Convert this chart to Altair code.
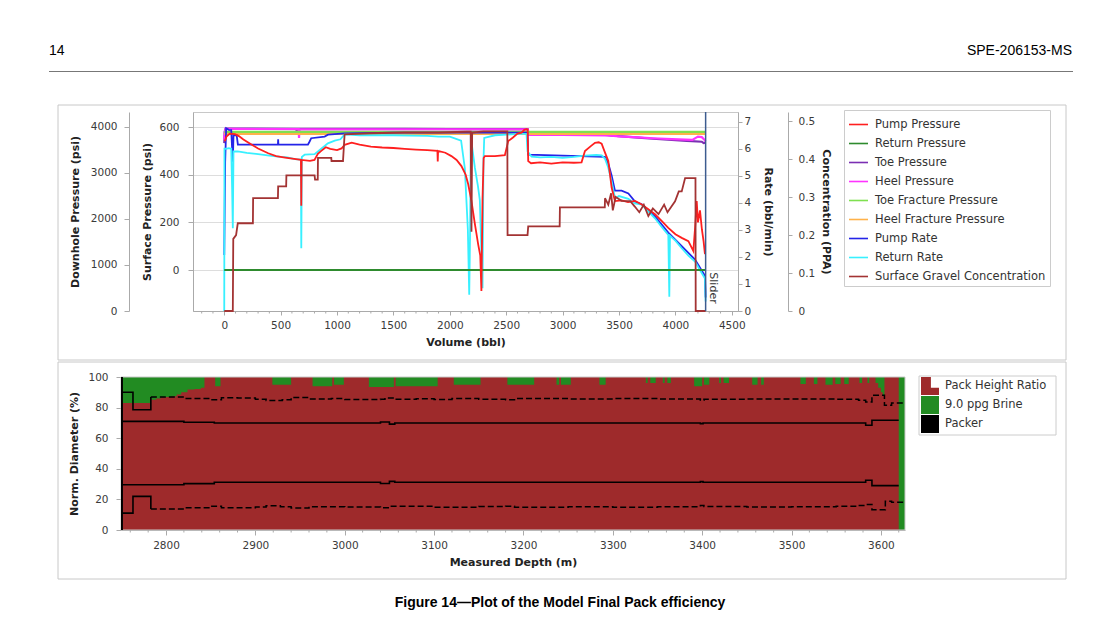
import altair as alt
import pandas as pd

# ---------------- top panel : series ----------------
series_top = ["Pump Pressure", "Return Pressure", "Toe Pressure", "Heel Pressure",
              "Toe Fracture Pressure", "Heel Fracture Pressure", "Pump Rate",
              "Return Rate", "Surface Gravel Concentration"]
colors_top = ["#FF1F1F", "#2E8B2E", "#7B2FB3", "#FF33FF", "#7FE050", "#FFB24A",
              "#2424E8", "#38F0FF", "#A33333"]

# surface pressure (psi)
pump_pressure_vol = [5, 20, 50, 95, 130, 170, 230, 300, 390, 460, 540, 620, 680, 683, 686, 760, 800, 830, 860, 900,
                     940, 1000, 1040, 1067, 1130, 1200, 1300, 1400, 1500, 1600, 1700, 1800, 1890, 1893, 1896, 1960,
                     2014, 2060, 2103, 2140, 2163, 2192, 2220, 2251, 2270, 2280, 2290, 2300, 2311, 2400, 2488, 2518,
                     2560, 2600, 2636, 2660, 2680, 2690, 2695, 2720, 2800, 2900, 3000, 3100, 3168, 3198, 3250, 3287,
                     3320, 3346, 3370, 3405, 3435, 3464, 3523, 3580, 3642, 3701, 3760, 3819, 3880, 3937, 4000, 4056,
                     4115, 4159, 4175, 4189, 4200, 4218, 4235, 4250, 4262]
pump_pressure_psi = [540, 560, 572, 570, 562, 548, 530, 510, 490, 478, 472, 466, 462, 270, 462, 458, 462, 488, 500, 515,
                     508, 503, 510, 525, 534, 526, 518, 514, 512, 508, 505, 503, 500, 455, 500, 492,
                     478, 462, 436, 400, 360, 289, 200, 109, 60, -88, 300, 470, 478, 478, 482, 541,
                     556, 572, 576, 588, 591, 590, 457, 448, 452, 446, 452, 450, 452, 499, 520, 534,
                     536, 530, 500, 457, 345, 289, 292, 285, 290, 275, 255, 234, 205, 177, 150, 135,
                     121, 80, 180, 289, 200, 250, 170, 120, 67]
return_pressure_vol = [0, 4268]
return_pressure_psi = [0, 0]

# downhole pressure (psi)
toe_pressure_vol = [0, 4, 12, 640, 643, 648, 1200, 1600, 2000, 2150, 2300, 2690, 2700, 3000, 3376, 3500, 3672,
                    3800, 3968, 4100, 4234, 4250, 4268]
toe_pressure_psi = [3650, 3900, 3965, 3962, 3850, 3962, 3960, 3958, 3956, 3955, 3955, 3952, 3845, 3838, 3830, 3800,
                    3770, 3745, 3718, 3700, 3680, 3650, 3660]
heel_pressure_vol = [0, 4, 12, 660, 663, 668, 2690, 2700, 3000, 3376, 3500, 3672, 3800, 3968, 4150, 4200, 4234,
                     4255, 4268]
heel_pressure_psi = [3720, 3880, 3958, 3955, 3760, 3955, 3948, 3830, 3826, 3820, 3795, 3775, 3755, 3735, 3720, 3790,
                     3780, 3730, 3690]
toe_frac_vol = [0, 4268]
toe_frac_psi = [3896, 3896]
heel_frac_vol = [0, 4268]
heel_frac_psi = [3850, 3850]

# rates (bbl/min)
pump_rate_vol = [0, 8, 17, 40, 62, 70, 76, 82, 110, 121, 300, 476, 478, 480, 742, 757, 771, 890, 920, 1067, 1500,
                 2000, 2689, 2695, 3000, 3375, 3405, 3435, 3464, 3523, 3583, 3642, 3701, 3819, 3937, 4056, 4174,
                 4262, 4268]
pump_rate_bpm = [2.07, 5.5, 6.76, 6.7, 6.69, 6.0, 5.52, 6.5, 6.5, 6.15, 6.15, 6.15, 6.35, 6.15, 6.15, 6.27, 6.39,
                 6.45, 6.52, 6.57, 6.6, 6.6, 6.6, 5.78, 5.75, 5.7, 5.45, 5.0, 4.45, 4.45, 4.35, 4.05, 3.95, 3.5,
                 2.9, 2.4, 1.9, 1.3, 0.5]
return_rate_vol = [0, 2, 17, 40, 62, 70, 76, 82, 120, 200, 300, 400, 500, 560, 624, 680, 683, 688, 713, 801, 860,
                   919, 980, 1030, 1067, 1200, 1500, 1800, 1900, 2000, 2100, 2133, 2160, 2172, 2180, 2186, 2200,
                   2222, 2250, 2266, 2290, 2298, 2305, 2400, 2500, 2600, 2680, 2689, 2725, 2800, 2900, 3000, 3100,
                   3198, 3300, 3346, 3375, 3405, 3435, 3464, 3500, 3583, 3642, 3701, 3760, 3819, 3880, 3937, 3946,
                   3952, 4000, 4056, 4115, 4174, 4220, 4262, 4268]
return_rate_bpm = [0, 6.0, 6.0, 6.02, 6.0, 4.5, 3.06, 5.9, 5.9, 5.85, 5.8, 5.75, 5.7, 5.68, 5.62, 5.6, 2.32, 5.7,
                   5.78, 5.8, 6.0, 6.2, 6.3, 6.35, 6.53, 6.5, 6.5, 6.48, 6.45, 6.45, 6.3, 5.28, 3.0, 0.6, 3.0, 6.45,
                   6.0, 5.3, 4.6, 4.1, 0.84, 5.5, 6.4, 6.5, 6.52, 6.55, 6.55, 5.9, 5.71, 5.68, 5.7, 5.66, 5.7,
                   5.75, 5.77, 5.76, 5.64, 5.3, 4.79, 4.17, 4.25, 4.15, 3.98, 3.93, 3.68, 3.43, 3.1, 2.81, 0.53,
                   2.78, 2.6, 2.32, 2.05, 1.83, 1.5, 1.2, 0.35]

# surface gravel concentration (PPA)
gravel_vol = [0, 76, 80, 105, 120, 254, 256, 476, 478, 549, 551, 801, 805, 829, 831, 949, 951, 1053, 1067, 1300,
              1600, 1900, 2150, 2185, 2192, 2198, 2300, 2510, 2512, 2689, 2695, 2800, 2974, 2976, 3374, 3376, 3405,
              3430, 3445, 3470, 3523, 3600, 3640, 3680, 3720, 3760, 3800, 3850, 3900, 3930, 3997, 4030, 4056,
              4086, 4178, 4180, 4268]
gravel_ppa = [0, 0, 0.19, 0.2, 0.231, 0.231, 0.297, 0.297, 0.328, 0.328, 0.357, 0.357, 0.346, 0.346, 0.403, 0.403,
              0.395, 0.395, 0.465, 0.468, 0.47, 0.47, 0.472, 0.472, 0.209, 0.47, 0.473, 0.473, 0.2, 0.2, 0.223,
              0.223, 0.223, 0.273, 0.273, 0.297, 0.28, 0.31, 0.265, 0.3, 0.29, 0.289, 0.275, 0.26, 0.28, 0.25,
              0.27, 0.255, 0.28, 0.26, 0.289, 0.315, 0.315, 0.35, 0.35, 0, 0]

slider_vol = [4268]
top_major_ticks = [0, 500, 1000, 1500, 2000, 2500, 3000, 3500, 4000, 4500]
top_minor_ticks = [-200, -100, 100, 200, 300, 400, 600, 700, 800, 900, 1100, 1200, 1300, 1400, 1600, 1700, 1800,
                   1900, 2100, 2200, 2300, 2400, 2600, 2700, 2800, 2900, 3100, 3200, 3300, 3400, 3600, 3700, 3800,
                   3900, 4100, 4200, 4300, 4400]

# ---------------- bottom panel : series ----------------
pack_series = ["Pack Height Ratio"]
pack_color = ["#9E2A2B"]
other_series = ["9.0 ppg Brine", "Packer"]
other_colors = ["#228B22", "#000000"]
depth_range = [2749.6, 3627]
bot_major_ticks = [2800, 2900, 3000, 3100, 3200, 3300, 3400, 3500, 3600]
bot_minor_ticks = [2760, 2780, 2820, 2840, 2860, 2880, 2920, 2940, 2960, 2980, 3020, 3040, 3060, 3080, 3120, 3140,
                   3160, 3180, 3220, 3240, 3260, 3280, 3320, 3340, 3360, 3380, 3420, 3440, 3460, 3480, 3520, 3540,
                   3560, 3580, 3620]

boundary_depth = [2749.6, 2783, 2789, 2794, 2800, 2806, 2812, 2817, 2824, 2832, 2839, 2843, 2855, 2861, 2919,
                  2940, 2964, 2986, 2988, 2999, 3027, 3055, 3057, 3104, 3122, 3152, 3182, 3212, 3237, 3240,
                  3242, 3253, 3285, 3292, 3337, 3339, 3342, 3348, 3356, 3358, 3361, 3365, 3391, 3400, 3402,
                  3408, 3419, 3421, 3424, 3430, 3456, 3462, 3466, 3469, 3510, 3516, 3525, 3529, 3538, 3546,
                  3549, 3555, 3559, 3564, 3576, 3579, 3585, 3587, 3594, 3597, 3600, 3602, 3604, 3620, 3627]
boundary_pct = [83, 85.2, 86, 86.7, 87, 87.4, 88.5, 90, 91.8, 92.2, 92.9, 100, 94, 100, 95,
                100, 94, 100, 95, 100, 93.5, 100, 94, 100, 95, 100, 95, 100, 95, 100,
                95, 100, 95, 100, 96, 100, 96, 100, 96, 100, 96, 100, 94, 100, 95,
                100, 96, 100, 96, 100, 95, 100, 95, 100, 95.5, 100, 95.5, 100, 95, 100,
                95.5, 100, 95.5, 100, 96, 100, 96, 100, 96, 93, 90, 88, 100, 0, 0]

packer_start = [2749.6]
packer_end = [2751.8]

upper_left_depth = [2749.6, 2763, 2783]
upper_left_pct = [90, 78.6, 86.9]
lower_left_depth = [2749.6, 2763, 2783]
lower_left_pct = [11, 22, 13.7]
upper_inner_depth = [2749.6, 2820, 2854, 3040, 3050, 3056, 3398, 3401, 3583, 3590, 3620]
upper_inner_pct = [71, 70.4, 69.9, 70.6, 69.2, 69.9, 69.5, 69.9, 68.5, 71.7, 71.7]
lower_inner_depth = [2749.6, 2820, 2854, 3040, 3050, 3056, 3398, 3401, 3583, 3590, 3620]
lower_inner_pct = [29.6, 30.3, 31.2, 30.4, 31.8, 31.2, 31.6, 31.2, 32.5, 29, 29]
upper_dash_depth = [2783, 2820, 2850, 2862, 2880, 2900, 2912, 2930, 2940, 2960, 2985, 3000, 3040, 3045, 3055,
                    3080, 3100, 3120, 3150, 3180, 3190, 3250, 3300, 3350, 3398, 3402, 3450, 3500, 3550, 3575,
                    3583, 3590, 3604, 3612, 3627]
upper_dash_pct = [86.9, 86.0, 85.2, 86.5, 86.2, 85.5, 84.6, 85.2, 86.6, 85.6, 85.9, 85.3, 85.4, 86.3, 85.4,
                  85.8, 85.3, 85.9, 85.4, 85.2, 85.9, 85.7, 85.9, 85.6, 84.8, 85.4, 85.6, 85.6, 85.4, 84.8,
                  83.7, 88, 81.5, 83, 83]
lower_dash_depth = [2783, 2820, 2850, 2862, 2900, 2912, 2928, 2940, 2960, 3000, 3040, 3050, 3100, 3150, 3180,
                    3190, 3250, 3300, 3350, 3398, 3402, 3450, 3500, 3550, 3575, 3583, 3590, 3605, 3612, 3627]
lower_dash_pct = [13.7, 14.5, 15.5, 14.5, 15, 15.8, 15.2, 14.3, 15.2, 15, 14.6, 15.5, 14.8, 15.3, 15.6,
                  14.9, 15.2, 14.8, 15.2, 16, 15.4, 15.1, 15.2, 15.5, 16, 16.6, 13.3, 18.8, 18.1, 18.1]


def long_df(items, xname):
    rows = []
    for name, xs, ys in items:
        for i, (a, b) in enumerate(zip(xs, ys)):
            rows.append({"series": name, xname: a, "val": b, "i": i})
    return pd.DataFrame(rows)


FONT = "DejaVu Sans"
one = pd.DataFrame({"k": [0]})

# ---------------- top chart (plot origin = page 192,111) ----------------
X_TOP = alt.X("vol:Q", scale=alt.Scale(domain=[-277, 4555], nice=False, zero=False),
              axis=alt.Axis(values=top_major_ticks, format="d", title="Volume (bbl)", tickSize=4,
                            labelPadding=5, titlePadding=6, grid=False))
COLOR_TOP = alt.Color("series:N", scale=alt.Scale(domain=series_top, range=colors_top),
                      legend=alt.Legend(title=None, orient="none", legendX=651, legendY=-2,
                                        symbolType="stroke", symbolSize=361, symbolStrokeWidth=1.6,
                                        labelFontSize=11.5, labelFont=FONT, labelColor="#333333",
                                        labelOffset=6, rowPadding=3, padding=4,
                                        strokeColor="#CCCCCC", fillColor="white", labelLimit=300))

surface_df = long_df([("Return Pressure", return_pressure_vol, return_pressure_psi),
                      ("Pump Pressure", pump_pressure_vol, pump_pressure_psi)], "vol")
downhole_df = long_df([("Toe Pressure", toe_pressure_vol, toe_pressure_psi),
                       ("Heel Pressure", heel_pressure_vol, heel_pressure_psi),
                       ("Heel Fracture Pressure", heel_frac_vol, heel_frac_psi),
                       ("Toe Fracture Pressure", toe_frac_vol, toe_frac_psi)], "vol")
rate_df = long_df([("Pump Rate", pump_rate_vol, pump_rate_bpm),
                   ("Return Rate", return_rate_vol, return_rate_bpm)], "vol")
conc_df = long_df([("Surface Gravel Concentration", gravel_vol, gravel_ppa)], "vol")

anchor_top = alt.Chart(one).mark_rect(fill="white", opacity=0).encode(
    x=alt.value(-184), x2=alt.value(908), y=alt.value(-103), y2=alt.value(248))
frame_top = alt.Chart(one).mark_rect(fillOpacity=0, stroke="#C8C8C8", strokeWidth=1).encode(
    x=alt.value(-135), x2=alt.value(873), y=alt.value(-7), y2=alt.value(248))
head_left = alt.Chart(pd.DataFrame({"t": ["14"]})).mark_text(
    align="left", baseline="middle", font="Liberation Sans", fontSize=14, color="#000000").encode(
    x=alt.value(-144), y=alt.value(-61), text="t:N")
head_right = alt.Chart(pd.DataFrame({"t": ["SPE-206153-MS"]})).mark_text(
    align="right", baseline="middle", font="Liberation Sans", fontSize=14, color="#000000").encode(
    x=alt.value(879), y=alt.value(-61), text="t:N")
head_rule = alt.Chart(one).mark_rule(color="#777777", strokeWidth=1).encode(
    x=alt.value(-144), x2=alt.value(880), y=alt.value(-40.5))
top_minor = alt.Chart(pd.DataFrame({"vol": top_minor_ticks})).mark_rule(color="#AAAAAA", strokeWidth=1).encode(
    x=X_TOP, y=alt.value(199), y2=alt.value(201.5))

downhole = alt.Chart(downhole_df).mark_line(strokeWidth=2.2).encode(
    x=X_TOP,
    y=alt.Y("val:Q", scale=alt.Scale(domain=[0, 4326], nice=False, zero=False),
            axis=alt.Axis(orient="left", offset=64, values=[0, 1000, 2000, 3000, 4000], format="d",
                          title="Downhole Pressure (psi)", grid=False, tickSize=5, labelPadding=7,
                          titlePadding=10)),
    color=COLOR_TOP, order="i:Q")
rate = alt.Chart(rate_df).mark_line(strokeWidth=1.8).encode(
    x=X_TOP,
    y=alt.Y("val:Q", scale=alt.Scale(domain=[0, 7.36], nice=False, zero=False),
            axis=alt.Axis(orient="right", offset=0, values=list(range(8)), title="Rate (bbl/min)",
                          grid=False, tickSize=4, labelPadding=2, titlePadding=12)),
    color=COLOR_TOP, order="i:Q")
surface = alt.Chart(surface_df).mark_line(strokeWidth=1.8).encode(
    x=X_TOP,
    y=alt.Y("val:Q", scale=alt.Scale(domain=[-172, 663], nice=False, zero=False),
            axis=alt.Axis(orient="left", offset=0, values=[0, 200, 400, 600], title="Surface Pressure (psi)",
                          grid=True, gridColor="#DDDDDD", tickSize=5, labelPadding=9, titlePadding=6)),
    color=COLOR_TOP, order="i:Q")
conc = alt.Chart(conc_df).mark_line(strokeWidth=1.8).encode(
    x=X_TOP,
    y=alt.Y("val:Q", scale=alt.Scale(domain=[0, 0.524], nice=False, zero=False),
            axis=alt.Axis(orient="right", offset=50, values=[0, 0.1, 0.2, 0.3, 0.4, 0.5],
                          labelExpr="datum.value == 0 ? '0' : format(datum.value, '.1f')",
                          title="Concentration (PPA)", grid=False, tickSize=4, labelPadding=6,
                          titlePadding=6)),
    color=COLOR_TOP, order="i:Q")
slider_df = pd.DataFrame({"vol": slider_vol, "t": ["Slider"]})
slider_rule = alt.Chart(slider_df).mark_rule(color="#3D5C8F", strokeWidth=1.5).encode(x=X_TOP)
slider_text = alt.Chart(slider_df).mark_text(angle=90, align="center", baseline="bottom", dy=-2,
                                             font=FONT, fontSize=11, color="#333333").encode(
    x=X_TOP, y=alt.value(176), text="t:N")

top = alt.layer(anchor_top, frame_top, head_left, head_right, head_rule, top_minor,
                downhole, rate, surface, conc, slider_rule, slider_text).resolve_scale(
    y="independent").properties(width=545, height=199)

# ---------------- bottom chart (origin shares page x 192; plot spans page 120..904) ----------------
X_BOT = alt.X("depth:Q", scale=alt.Scale(domain=depth_range, range=[-72, 712], nice=False, zero=False),
              axis=alt.Axis(values=bot_major_ticks, format="d", title="Measured Depth (m)",
                            tickSize=5, labelPadding=5, titlePadding=6, grid=False))
Y_AX = alt.Axis(values=[0, 20, 40, 60, 80, 100], title="Norm. Diameter (%)", tickSize=5, labelPadding=8,
                titlePadding=8, grid=False, offset=72)
Y_SC = alt.Scale(domain=[0, 100], nice=False, zero=False)
STEP_ICON = "M-1,-1H0.1V0.2H1V1H-1Z"
FILL_PACK = alt.Fill("series:N", scale=alt.Scale(domain=pack_series, range=pack_color),
                     legend=alt.Legend(title=None, orient="none", legendX=728, legendY=0,
                                       symbolType=STEP_ICON, symbolSize=324, symbolStrokeWidth=0,
                                       symbolOpacity=1, labelFontSize=11.5, labelFont=FONT,
                                       labelColor="#333333", labelOffset=6, rowPadding=1, padding=0))
COLOR_OTHER = alt.Color("series:N", scale=alt.Scale(domain=other_series, range=other_colors),
                        legend=alt.Legend(title=None, orient="none", legendX=728, legendY=19,
                                          symbolType="square", symbolSize=324, symbolStrokeWidth=0,
                                          symbolOpacity=1, labelFontSize=11.5, labelFont=FONT,
                                          labelColor="#333333", labelOffset=6, rowPadding=1, padding=0))

brine_df = pd.DataFrame({"series": ["9.0 ppg Brine"], "depth": [depth_range[0]], "d1": [depth_range[1]],
                         "lo": [0], "hi": [100]})
pack_df = pd.DataFrame({"series": "Pack Height Ratio", "depth": boundary_depth, "val": boundary_pct})
packer_df = pd.DataFrame({"series": ["Packer"], "depth": packer_start, "d1": packer_end,
                          "lo": [0], "hi": [100]})
border_df = pd.DataFrame({"depth": [depth_range[0]], "d1": [depth_range[1]], "lo": [0], "hi": [100]})
solid_df = long_df([("ul", upper_left_depth, upper_left_pct), ("ll", lower_left_depth, lower_left_pct),
                    ("ui", upper_inner_depth, upper_inner_pct), ("li", lower_inner_depth, lower_inner_pct)],
                   "depth")
dash_df = long_df([("ud", upper_dash_depth, upper_dash_pct), ("ld", lower_dash_depth, lower_dash_pct)], "depth")

anchor_bot = alt.Chart(one).mark_rect(fill="white", opacity=0).encode(
    x=alt.value(-184), x2=alt.value(908), y=alt.value(-15), y2=alt.value(240))
frame_bot = alt.Chart(one).mark_rect(fillOpacity=0, stroke="#C8C8C8", strokeWidth=1).encode(
    x=alt.value(-135), x2=alt.value(873), y=alt.value(-15), y2=alt.value(202))
legend_box = alt.Chart(one).mark_rect(fill="white", stroke="#CCCCCC", strokeWidth=1).encode(
    x=alt.value(726), x2=alt.value(863), y=alt.value(-1), y2=alt.value(58))
brine = alt.Chart(brine_df).mark_rect().encode(
    x=X_BOT, x2="d1:Q", y=alt.Y("lo:Q", scale=Y_SC, axis=Y_AX), y2="hi:Q", color=COLOR_OTHER)
pack = alt.Chart(pack_df).mark_area(interpolate="step-after", opacity=1).encode(
    x=X_BOT, y=alt.Y("val:Q", stack=None, scale=Y_SC, axis=Y_AX), fill=FILL_PACK)
packer = alt.Chart(packer_df).mark_rect().encode(
    x=X_BOT, x2="d1:Q", y=alt.Y("lo:Q", scale=Y_SC, axis=Y_AX), y2="hi:Q", color=COLOR_OTHER)
border = alt.Chart(border_df).mark_rect(fillOpacity=0, stroke="#C8C8C8", strokeWidth=1).encode(
    x=X_BOT, x2="d1:Q", y=alt.Y("lo:Q", scale=Y_SC, axis=Y_AX), y2="hi:Q")
bot_minor = alt.Chart(pd.DataFrame({"depth": bot_minor_ticks})).mark_rule(color="#AAAAAA", strokeWidth=1).encode(
    x=X_BOT, y=alt.value(153), y2=alt.value(155.5))
solid = alt.Chart(solid_df).mark_line(interpolate="step-after", color="black", strokeWidth=1.6).encode(
    x=X_BOT, y=alt.Y("val:Q", scale=Y_SC, axis=Y_AX), detail="series:N", order="i:Q")
dashed = alt.Chart(dash_df).mark_line(interpolate="step-after", color="black", strokeWidth=1.5,
                                      strokeDash=[6, 3]).encode(
    x=X_BOT, y=alt.Y("val:Q", scale=Y_SC, axis=Y_AX), detail="series:N", order="i:Q")
caption = alt.Chart(pd.DataFrame({"t": ["Figure 14\u2014Plot of the Model Final Pack efficiency"]})).mark_text(
    align="center", baseline="middle", font="Liberation Sans", fontSize=14, fontWeight="bold",
    color="#000000").encode(x=alt.value(367), y=alt.value(226), text="t:N")

bottom = alt.layer(anchor_bot, frame_bot, legend_box, brine, pack, border, packer, bot_minor, solid, dashed,
                   caption).properties(width=712, height=153, view=alt.ViewBackground(stroke="transparent"))

chart = alt.vconcat(top, bottom, spacing=0, padding=0).resolve_scale(
    color="independent", fill="independent").configure_view(
    stroke="#C8C8C8", strokeWidth=1).configure_axis(
    labelFont=FONT, titleFont=FONT, labelFontSize=10.5, titleFontSize=11, titleFontWeight="bold",
    labelColor="#3A3A3A", titleColor="#222222", domainColor="#AAAAAA", tickColor="#AAAAAA")

chart.save("out.html", embed_options={"renderer": "svg", "actions": False})
